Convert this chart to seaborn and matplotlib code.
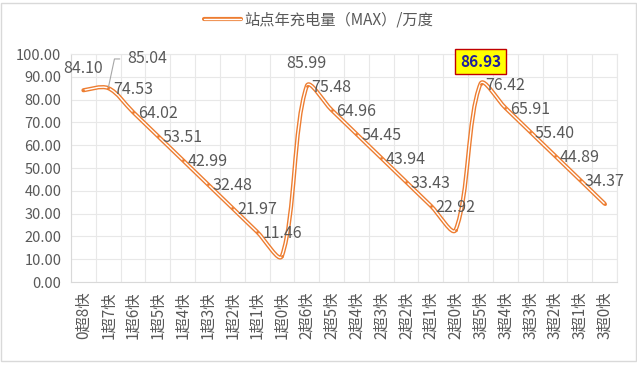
import numpy as np
import matplotlib
matplotlib.use("Agg")
import matplotlib.pyplot as plt
import matplotlib.patheffects as pe
import seaborn as sns
from matplotlib.path import Path
from matplotlib.patches import PathPatch, Rectangle
from matplotlib.lines import Line2D

# data
labels = ["0超8快", "1超7快", "1超6快", "1超5快", "1超4快", "1超3快", "1超2快",
          "1超1快", "1超0快", "2超6快", "2超5快", "2超4快", "2超3快", "2超2快",
          "2超1快", "2超0快", "3超5快", "3超4快", "3超3快", "3超2快", "3超1快",
          "3超0快"]
values = [84.10, 85.04, 74.53, 64.02, 53.51, 42.99, 32.48, 21.97, 11.46,
          85.99, 75.48, 64.96, 54.45, 43.94, 33.43, 22.92,
          86.93, 76.42, 65.91, 55.40, 44.89, 34.37]
series_name = "站点年充电量（MAX）/万度"
y_ticks = [0, 10, 20, 30, 40, 50, 60, 70, 80, 90, 100]

ORANGE = "#ED7D31"
GRID = "#E8E8E8"
TEXT = "#595959"

sns.set_theme(style="white")
plt.rcParams["font.family"] = ["Noto Sans CJK SC", "DejaVu Sans"]

fig = plt.figure(figsize=(6.37, 3.72), dpi=100)
ax = fig.add_axes([0.1115, 0.2419, 0.8571, 0.6129])

# tiny point markers, also sets up the categorical x axis
sns.scatterplot(x=labels, y=values, ax=ax, color=ORANGE, s=4, linewidth=0, zorder=4)

ax.set_xlim(-0.5, len(labels) - 0.5)
ax.set_ylim(0, 100)


def smooth_path(ys):
    # Excel-like smoothed line, built in screen space so the tangents
    # are weighted by the on-screen segment lengths
    xs = np.arange(len(ys), dtype=float)
    pts = ax.transData.transform(np.column_stack([xs, np.asarray(ys, dtype=float)]))
    n = len(pts)
    tans = [pts[min(i + 1, n - 1)] - pts[max(i - 1, 0)] for i in range(n)]
    verts = [pts[0]]
    codes = [Path.MOVETO]
    for i in range(n - 1):
        p1, p2 = pts[i], pts[i + 1]
        d12 = np.hypot(*(p2 - p1))
        d01 = np.hypot(*(p1 - pts[max(i - 1, 0)]))
        d23 = np.hypot(*(pts[min(i + 2, n - 1)] - p2))
        w1 = d12 / (d01 + d12) if d01 > 0 else 0.5
        w2 = d12 / (d12 + d23) if d23 > 0 else 0.5
        c1 = p1 + tans[i] * w1 / 3.0
        c2 = p2 - tans[i + 1] * w2 / 3.0
        verts += [c1, c2, p2]
        codes += [Path.CURVE4] * 3
    verts = ax.transData.inverted().transform(np.array(verts))
    return Path(verts, codes)


# double (compound) line: orange outline, white core
double_line = [pe.Stroke(linewidth=3.0, foreground=ORANGE), pe.Normal()]
ax.add_patch(PathPatch(smooth_path(values), facecolor="none", edgecolor="white", lw=1.0,
                       joinstyle="round", capstyle="round", zorder=3,
                       path_effects=double_line))

# data labels
for i, v in enumerate(values):
    if i == 1:
        ax.annotate(f"{v:.2f}", xy=(i, v), xytext=(28, 21), textcoords="offset points",
                    ha="center", va="center", fontsize=11.5, color=TEXT,
                    arrowprops=dict(arrowstyle="-", color="#A6A6A6", lw=0.8,
                                    relpos=(0, 0.5), shrinkA=3, shrinkB=0,
                                    connectionstyle="angle,angleA=0,angleB=78,rad=0"))
    elif i == 16:
        ax.annotate(f"{v:.2f}", xy=(i, v), xytext=(0, 16), textcoords="offset points",
                    ha="center", va="center", fontsize=11, fontweight="bold",
                    color="#1F1F9F",
                    bbox=dict(boxstyle="square,pad=0.3", facecolor="#FFFF00",
                              edgecolor="#C00000", lw=1.0))
    else:
        ax.annotate(f"{v:.2f}", xy=(i, v), xytext=(0, 16), textcoords="offset points",
                    ha="center", va="center", fontsize=11.5, color=TEXT)

ax.set_yticks(y_ticks)
ax.set_yticklabels([f"{t:.2f}" for t in y_ticks])
ax.set_xticks(np.arange(len(labels)))
ax.set_xticklabels(labels, rotation=90)
ax.set_xticks(np.arange(len(labels) + 1) - 0.5, minor=True)
ax.tick_params(axis="both", which="both", length=0, colors=TEXT)
ax.tick_params(axis="y", pad=7, labelsize=10.5)
ax.tick_params(axis="x", pad=7, labelsize=11)
ax.grid(axis="y", which="major", color=GRID, lw=0.8)
ax.grid(axis="x", which="minor", color=GRID, lw=0.8)
ax.grid(axis="x", which="major", visible=False)
ax.set_xlabel("")
ax.set_ylabel("")
for side in ["top", "right"]:
    ax.spines[side].set_color(GRID)
    ax.spines[side].set_linewidth(0.8)
for side in ["left", "bottom"]:
    ax.spines[side].set_color("#D9D9D9")
    ax.spines[side].set_linewidth(0.8)

# legend with double-line sample
handle = Line2D([], [], color="white", lw=1.0, path_effects=double_line)
fig.legend([handle], [series_name], loc="center", bbox_to_anchor=(0.5, 0.946),
           frameon=False, fontsize=11, labelcolor=TEXT,
           handlelength=2.4, handletextpad=0.2)

# chart border
fig.patches.append(Rectangle((1.5 / 637, 1 - 361 / 372), 634 / 637, 358 / 372,
                             transform=fig.transFigure, fill=False,
                             edgecolor="#D9D9D9", lw=1.0))

fig.savefig("out.png", dpi=100)
